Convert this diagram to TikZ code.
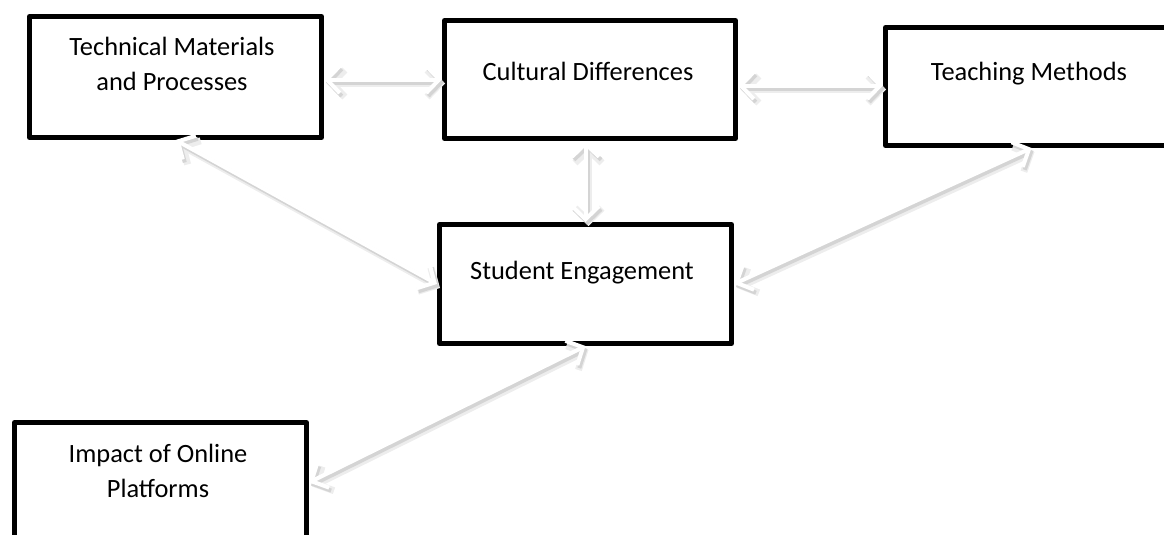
\documentclass[tikz,border=0pt]{standalone}
\usepackage{fontspec}
\setmainfont{Carlito}
\usetikzlibrary{arrows.meta,calc}
\tikzset{
  box/.style={draw=black, line width=5pt, line join=round, fill=white, inner sep=0pt, anchor=north west},
  txt/.style={align=center, inner sep=0pt, font=\fontsize{26.4}{35}\selectfont},
  linkshadowwide/.style={draw=black!7, line width=7pt, >={Straight Barb[length=13pt, width=27pt, line width=7pt]}, <->, transform canvas={shift={(3pt,-4pt)}}},
  linkshadow/.style={draw=black!17, line width=4pt, >={Straight Barb[length=13pt, width=27pt, line width=4pt]}, <->, transform canvas={shift={(2pt,-3pt)}}},
  link/.style={draw=white, line width=4pt, >={Straight Barb[length=13pt, width=27pt, line width=4pt]}, <->},
}
\newcommand{\biarrow}[2]{%
  \path[linkshadowwide] #1 -- #2;
  \path[linkshadow] #1 -- #2;
  \path[link] #1 -- #2;
}
\begin{document}
\begin{tikzpicture}[x=1pt, y=-1pt]
  \useasboundingbox (0,0) rectangle (1164,535);
  \clip (0,0) rectangle (1164,535);
  \node[box, minimum width=292pt, minimum height=121pt] (tech) at (27,14) {};
  \node[box, minimum width=291pt, minimum height=118pt] (cult) at (442,18) {};
  \node[box, minimum width=292pt, minimum height=118pt] (teach) at (883,25) {};
  \node[box, minimum width=292pt, minimum height=119pt] (stud) at (437,222) {};
  \node[box, minimum width=292pt, minimum height=120pt] (imp) at (12,420) {};
  \node[txt] (techt) at (172,64) {Technical Materials\\and Processes};
  \node[txt] (cultt) at (588,71) {Cultural Differences};
  \node[txt] (teacht) at (1029,74) {Teaching Methods};
  \node[txt] (studt) at (582,273) {Student Engagement};
  \node[txt] (impt) at (158,471) {Impact of Online\\Platforms};
  \biarrow{(tech.east |- cult.west)}{(cult.west)}
  \biarrow{([yshift=-6pt]cult.east)}{([yshift=-6pt]cult.east -| teach.west)}
  \biarrow{(cult.south -| stud.north)}{(stud.north)}
  \biarrow{(tech.south)}{(stud.west)}
  \biarrow{(teach.south)}{(stud.east)}
  \biarrow{(stud.south)}{(imp.east)}
\end{tikzpicture}
\end{document}
